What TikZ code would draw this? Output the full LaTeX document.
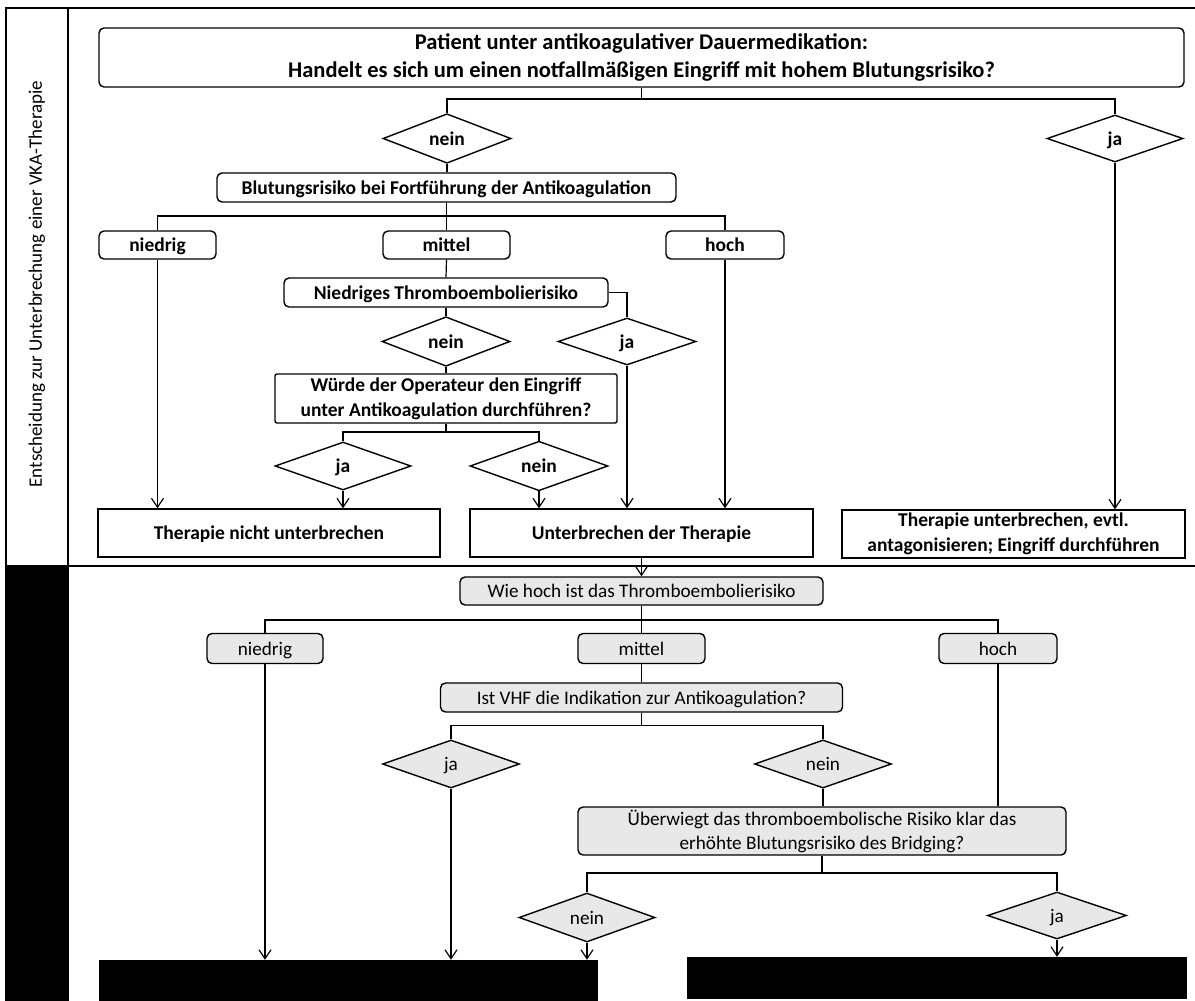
\documentclass[tikz,border=0pt]{standalone}
\usepackage{fontspec}
\setmainfont{Carlito}
\usetikzlibrary{shapes.geometric,arrows.meta}
\tikzset{
  tbase/.style={draw, line width=1.4pt, inner sep=0pt, align=center, font=\bfseries\fontsize{19.5}{25}\selectfont},
  rbox/.style={tbase, rounded corners=5pt},
  sbox/.style={tbase},
  dia/.style={tbase, diamond},
  one/.style={text height=13.5pt, text depth=0.5pt},
  low/.style={fill=black!9, font=\fontsize{19.2}{24}\selectfont},
  conn/.style={line width=1.2pt},
  arr/.style={conn, -{Straight Barb[length=9pt,width=12pt,line width=1.2pt]}},
  frame/.style={line width=2pt},
  blk/.style={fill=black, draw=black}
}
\begin{document}
\begin{tikzpicture}[x=1pt,y=-1pt]
\useasboundingbox (0,0) rectangle (1195,1001);
% frame
\fill[black] (6,566) rectangle (68,1001);
\draw[frame] (6,1001) -- (6,8) -- (1195,8);
\draw[frame] (68,8) -- (68,1001);
\draw[frame] (6,566) -- (1195,566);
\node[rotate=90, font=\fontsize{19}{22}\selectfont] (lab) at (37,284) {Entscheidung zur Unterbrechung einer VKA-Therapie};

% top section
\node[rbox, minimum width=1085pt, minimum height=59pt, font=\bfseries\fontsize{22.5}{28}\selectfont] (T0) at (641.5,57.5) {Patient unter antikoagulativer Dauermedikation:\\Handelt es sich um einen notfallmäßigen Eingriff mit hohem Blutungsrisiko?};
\node[dia, one, minimum width=128pt, minimum height=47pt] (D1) at (447,138.5) {nein};
\node[dia, one, minimum width=136pt, minimum height=47pt] (D2) at (1115,138.5) {ja};
\node[rbox, one, minimum width=459pt, minimum height=29pt] (B1) at (446.5,187.5) {Blutungsrisiko bei Fortführung der Antikoagulation};
\node[rbox, one, minimum width=117pt, minimum height=28pt] (N1) at (157.5,245) {niedrig};
\node[rbox, one, minimum width=127pt, minimum height=28pt] (M1) at (446.5,245) {mittel};
\node[rbox, one, minimum width=118pt, minimum height=28pt] (H1) at (725,245) {hoch};
\node[rbox, one, minimum width=324pt, minimum height=29pt] (NT) at (446,292.5) {Niedriges Thromboembolierisiko};
\node[dia, one, minimum width=128pt, minimum height=47pt] (D3) at (446,341.5) {nein};
\node[dia, one, minimum width=138pt, minimum height=47pt] (D4) at (627,341.5) {ja};
\node[sbox, rounded corners=2pt, minimum width=342pt, minimum height=49pt] (W) at (446,398.5) {Würde der Operateur den Eingriff\\unter Antikoagulation durchführen?};
\node[dia, one, minimum width=136pt, minimum height=48pt] (D5) at (343,466) {ja};
\node[dia, one, minimum width=138pt, minimum height=48pt] (D6) at (539,466) {nein};
\node[sbox, one, minimum width=342pt, minimum height=48pt] (R1) at (269,533) {Therapie nicht unterbrechen};
\node[sbox, one, minimum width=343pt, minimum height=48pt] (R2) at (641.5,533) {Unterbrechen der Therapie};
\node[sbox, minimum width=343pt, minimum height=48pt] (R3) at (1013.5,534) {Therapie unterbrechen, evtl.\\antagonisieren; Eingriff durchführen};

\coordinate (j0) at (641.5,99);
\coordinate (j1) at (446.5,216);
\coordinate (j2) at (446,432);
\draw[conn] (T0.south) -- (j0);
\draw[conn] (j0) -| (D1.north);
\draw[conn] (j0) -| (D2.north);
\draw[conn] (D1.south) -- (D1.south |- B1.north);
\draw[conn] (B1.south) -- (j1);
\draw[conn] (j1) -| (N1.north);
\draw[conn] (j1) -- (M1.north);
\draw[conn] (j1) -| (H1.north);
\draw[conn] (M1.south) -- (NT.north);
\draw[conn] (NT.south) -- (D3.north);
\draw[conn] (NT.east) -| (D4.north);
\draw[conn] (D3.south) -- (W.north);
\draw[conn] (W.south) -- (j2);
\draw[conn] (j2) -| (D5.north);
\draw[conn] (j2) -| (D6.north);
\draw[arr] (N1.south) -- (N1.south |- R1.north);
\draw[arr] (D5.south) -- (D5.south |- R1.north);
\draw[arr] (D6.south) -- (D6.south |- R2.north);
\draw[arr] (D4.south) -- (D4.south |- R2.north);
\draw[arr] (H1.south) -- (H1.south |- R2.north);
\draw[arr] (D2.south) -- (D2.south |- R3.north);

% bottom section
\node[rbox, low, one, minimum width=363pt, minimum height=28pt] (WH) at (641.5,591) {Wie hoch ist das Thromboembolierisiko};
\node[rbox, low, one, minimum width=116pt, minimum height=30pt] (LN) at (265,648.5) {niedrig};
\node[rbox, low, one, minimum width=127pt, minimum height=30pt] (LM) at (641.5,648.5) {mittel};
\node[rbox, low, one, minimum width=118pt, minimum height=30pt] (LH) at (998,648.5) {hoch};
\node[rbox, low, one, minimum width=402pt, minimum height=29pt] (IV) at (641.5,697.5) {Ist VHF die Indikation zur Antikoagulation?};
\node[dia, low, one, minimum width=137pt, minimum height=48pt] (D7) at (451,764) {ja};
\node[dia, low, one, minimum width=137pt, minimum height=48pt] (D8) at (823,764) {nein};
\node[rbox, low, minimum width=488pt, minimum height=48pt] (UE) at (822,831) {Überwiegt das thromboembolische Risiko klar das\\erhöhte Blutungsrisiko des Bridging?};
\node[dia, low, one, minimum width=136pt, minimum height=49pt] (D9) at (587,917.5) {nein};
\node[dia, low, one, minimum width=139pt, minimum height=47pt] (D10) at (1057,915.5) {ja};
\node[blk, minimum width=498pt, minimum height=41pt, inner sep=0pt] (BL) at (348,980.5) {};
\node[blk, minimum width=499pt, minimum height=41pt, inner sep=0pt] (BR) at (936.5,977.5) {};

\coordinate (k0) at (641.5,620);
\coordinate (k1) at (641.5,725.5);
\coordinate (k2) at (822,873);
\draw[arr] (R2.south) -- (WH.north);
\draw[conn] (WH.south) -- (k0);
\draw[conn] (k0) -| (LN.north);
\draw[conn] (k0) -- (LM.north);
\draw[conn] (k0) -| (LH.north);
\draw[conn] (LM.south) -- (IV.north);
\draw[conn] (IV.south) -- (k1);
\draw[conn] (k1) -| (D7.north);
\draw[conn] (k1) -| (D8.north);
\draw[conn] (D8.south) -- (D8.south |- UE.north);
\draw[conn] (LH.south) -- (LH.south |- UE.north);
\draw[conn] (UE.south) -- (k2);
\draw[conn] (k2) -| (D9.north);
\draw[conn] (k2) -| (D10.north);
\draw[arr] (LN.south) -- (LN.south |- BL.north);
\draw[arr] (D7.south) -- (D7.south |- BL.north);
\draw[arr] (D9.south) -- (D9.south |- BL.north);
\draw[arr] (D10.south) -- (D10.south |- BR.north);
\end{tikzpicture}
\end{document}
